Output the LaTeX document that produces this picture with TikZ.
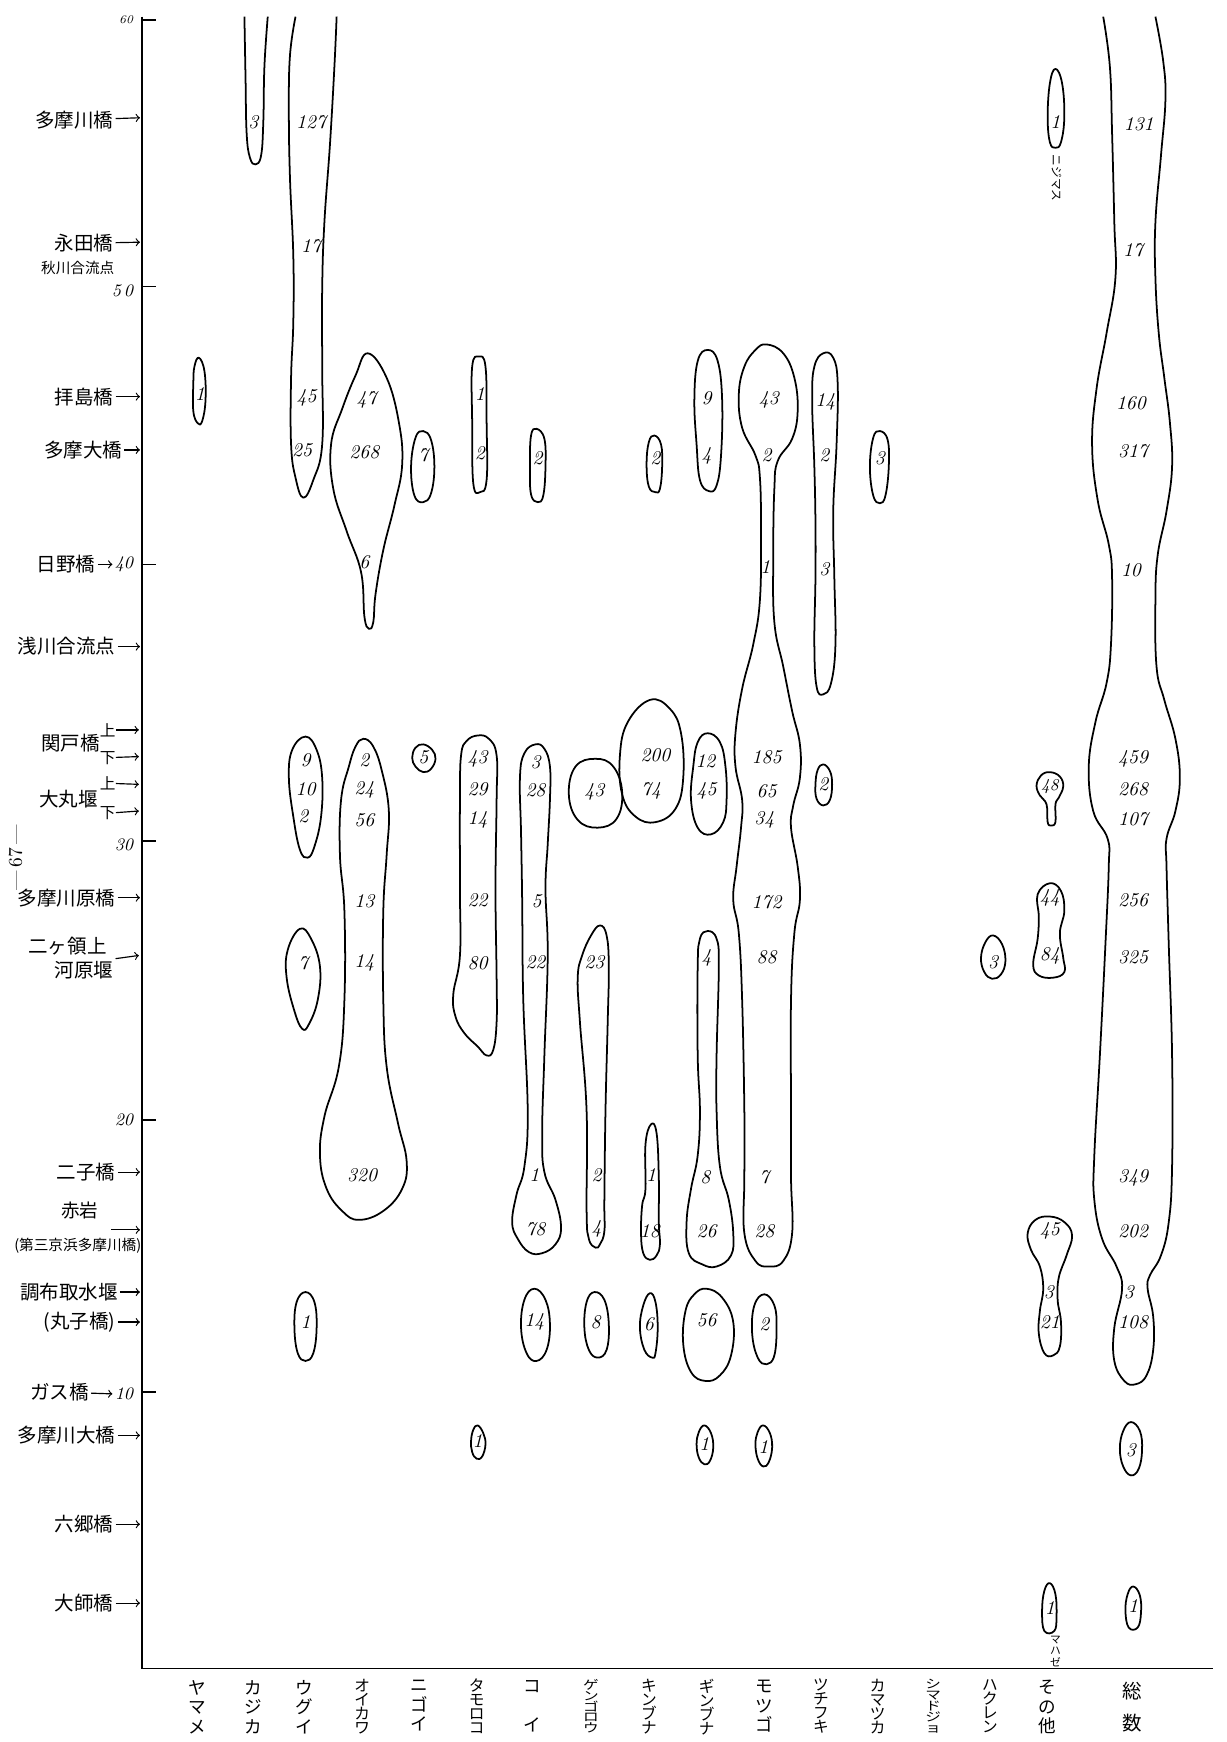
\documentclass[tikz,border=0pt]{standalone}
\usepackage{fontspec}
\newfontfamily\jp{Noto Sans CJK JP}

\begin{document}
\begin{tikzpicture}[
  x=0.02cm, y=-0.02cm,
  blob/.style={line width=.9pt, line join=round},
  numlab/.style={font=\itshape\fontsize{10}{11}\selectfont, inner sep=0pt},
  station/.style={font=\jp\fontsize{10}{12}\selectfont, anchor=east, inner sep=1pt},
  substation/.style={font=\jp\fontsize{7.5}{9}\selectfont, inner sep=0pt},
  ticklab/.style={font=\itshape\fontsize{9}{10}\selectfont, anchor=east, inner sep=1pt},
  vlab/.style={font=\jp\fontsize{9}{#1}\selectfont, align=center, anchor=north, inner sep=0pt},
  vlab/.default=10pt,
  vlabfour/.style={font=\jp\fontsize{8}{7.2}\selectfont, align=center, anchor=north, inner sep=0pt},
  vlabfive/.style={font=\jp\fontsize{8}{7.2}\selectfont, align=center, anchor=north, inner sep=0pt, yscale=.78, transform shape},
  arr/.style={->, line width=.6pt}
]
\useasboundingbox (0,0) rectangle (1104,1568);

% axes
\coordinate (o-top) at (128,15);
\coordinate (o-bot) at (128,1502);
\coordinate (o-right) at (1092,1502);
\draw[line width=.8pt] (o-top) -- (o-bot) -- (o-right);
\draw[line width=.7pt] (128,18) -- (140,18);
\draw[line width=.7pt] (128,258) -- (140,258);
\draw[line width=.7pt] (128,508) -- (140,508);
\draw[line width=.7pt] (128,757) -- (140,757);
\draw[line width=.7pt] (128,1008) -- (140,1008);
\draw[line width=.7pt] (128,1253) -- (140,1253);

\node[ticklab, font=\itshape\fontsize{6}{7}\selectfont] (t60) at (122,18) {60};
\node[ticklab] (t50) at (122,262) {5\,0};
\node[ticklab] (t40) at (122,508) {40};
\node[ticklab] (t30) at (122,760) {30};
\node[ticklab] (t20) at (122,1008) {20};
\node[ticklab] (t10) at (122,1255) {10};

\node[font=\fontsize{10}{12}\selectfont, rotate=90] (pageno) at (14,772) {---\,67\,---};

% stations
\node[station] (s-tamagawa) at (104,108) {多摩川橋};
\coordinate (a-tamagawa) at (126,106);
\draw[arr] (s-tamagawa) -- (a-tamagawa);
\node[station] (s-nagata) at (104,219) {永田橋};
\coordinate (a-nagata) at (126,218);
\draw[arr] (s-nagata) -- (a-nagata);
\node[substation] (s-akigawa) at (70,241) {秋川合流点};
\node[station] (s-haijima) at (104,357) {拝島橋};
\coordinate (a-haijima) at (126,357);
\draw[arr] (s-haijima) -- (a-haijima);
\node[station] (s-tamaohashi) at (112,405) {多摩大橋};
\coordinate (a-tamaohashi) at (126,405);
\draw[arr] (s-tamaohashi) -- (a-tamaohashi);
\node[station] (s-hino) at (88,508) {日野橋};
\draw[arr] (s-hino) -- (t40);
\node[station] (s-asakawa) at (106,582) {浅川合流点};
\coordinate (a-asakawa) at (126,582);
\draw[arr] (s-asakawa) -- (a-asakawa);
\node[station] (s-sekido) at (92,669) {関戸橋};
\node[substation, font=\jp\fontsize{8}{9}\selectfont] (s-sekido-up) at (97,657) {上};
\node[substation, font=\jp\fontsize{8}{9}\selectfont] (s-sekido-dn) at (97,682) {下};
\coordinate (a-sekido-up) at (125,657);
\coordinate (a-sekido-dn) at (125,681);
\draw[arr] (s-sekido-up) -- (a-sekido-up);
\draw[arr] (s-sekido-dn) -- (a-sekido-dn);
\node[station] (s-daimaru) at (90,719) {大丸堰};
\node[substation, font=\jp\fontsize{8}{9}\selectfont] (s-daimaru-up) at (97,705) {上};
\node[substation, font=\jp\fontsize{8}{9}\selectfont] (s-daimaru-dn) at (97,732) {下};
\coordinate (a-daimaru-up) at (125,706);
\coordinate (a-daimaru-dn) at (125,730);
\draw[arr] (s-daimaru-up) -- (a-daimaru-up);
\draw[arr] (s-daimaru-dn) -- (a-daimaru-dn);
\node[station] (s-tamagawara) at (106,808) {多摩川原橋};
\coordinate (a-tamagawara) at (126,808);
\draw[arr] (s-tamagawara) -- (a-tamagawara);
\node[station] (s-nikaryo) at (98,852) {二ヶ領上};
\node[station] (s-kawarazeki) at (104,873) {河原堰};
\coordinate (a-nikaryo) at (125,860);
\draw[arr] (s-kawarazeki.north east) -- (a-nikaryo);
\node[station] (s-futako) at (106,1055) {二子橋};
\coordinate (a-futako) at (126,1055);
\draw[arr] (s-futako) -- (a-futako);
\node[substation, font=\jp\fontsize{9.5}{11}\selectfont] (s-akaiwa) at (72,1090) {赤岩};
\node[substation] (s-daisan) at (70,1121) {(第三京浜多摩川橋)};
\coordinate (c-akaiwa) at (100,1107);
\coordinate (a-akaiwa) at (126,1107);
\draw[arr] (c-akaiwa) -- (a-akaiwa);
\node[station] (s-chofu) at (108,1163) {調布取水堰};
\coordinate (a-chofu) at (126,1163);
\draw[arr] (s-chofu) -- (a-chofu);
\node[station] (s-maruko) at (106,1190) {(丸子橋)};
\coordinate (a-maruko) at (126,1190);
\draw[arr] (s-maruko) -- (a-maruko);
\node[station] (s-gasu) at (82,1253) {ガス橋};
\draw[arr] (s-gasu) -- (t10);
\node[station] (s-tamagawaohashi) at (106,1292) {多摩川大橋};
\coordinate (a-tamagawaohashi) at (126,1292);
\draw[arr] (s-tamagawaohashi) -- (a-tamagawaohashi);
\node[station] (s-rokugo) at (104,1372) {六郷橋};
\coordinate (a-rokugo) at (126,1372);
\draw[arr] (s-rokugo) -- (a-rokugo);
\node[station] (s-daishi) at (104,1443) {大師橋};
\coordinate (a-daishi) at (126,1443);
\draw[arr] (s-daishi) -- (a-daishi);

% species labels
\node[vlab] (l-yamame) at (178,1512) {ヤ\\マ\\メ};
\node[vlab] (l-kajika) at (228,1512) {カ\\ジ\\カ};
\node[vlab] (l-ugui) at (274,1512) {ウ\\グ\\イ};
\node[vlabfour] (l-oikawa) at (326,1511) {オ\\イ\\カ\\ワ};
\node[vlab] (l-nigoi) at (377,1512) {ニ\\ゴ\\イ};
\node[vlabfour] (l-tamoroko) at (429,1511) {タ\\モ\\ロ\\コ};
\node[vlab=20pt] (l-koi) at (479,1512) {コ\\イ};
\node[vlabfive] (l-gengoro) at (532,1511) {ゲ\\ン\\ゴ\\ロ\\ウ};
\node[vlabfour] (l-kinbuna) at (584,1511) {キ\\ン\\ブ\\ナ};
\node[vlabfour] (l-ginbuna) at (636,1511) {ギ\\ン\\ブ\\ナ};
\node[vlab] (l-motsugo) at (688,1512) {モ\\ツ\\ゴ};
\node[vlabfour] (l-tsuchifuki) at (739,1511) {ツ\\チ\\フ\\キ};
\node[vlabfour] (l-kamatsuka) at (790,1511) {カ\\マ\\ツ\\カ};
\node[vlabfive] (l-shimadojo) at (840,1511) {シ\\マ\\ド\\ジ\\ョ};
\node[vlabfour] (l-hakuren) at (891,1511) {ハ\\ク\\レ\\ン};
\node[vlab] (l-sonota) at (943,1512) {そ\\の\\他};
\node[vlab=16pt, font=\jp\fontsize{10}{16}\selectfont] (l-sosu) at (1019,1514) {総\\数};

% yamame
\draw[blob] plot[smooth cycle, tension=.7] coordinates {(179,322) (184,334) (185,360) (182,379) (178,381) (174,370) (174,345) (175,330)};
\node[numlab] (ya-1) at (180,355) {1};

% kajika
\draw[blob] plot[smooth, tension=.7] coordinates {(220,15) (221,70) (222,120) (225,142) (230,148) (235,140) (237,110) (238,60) (241,15)};
\node[numlab] (ka-3) at (228,110) {3};

% ugui
\draw[blob] plot[smooth, tension=.7] coordinates {(266,15) (261,50) (260,100) (261,160) (264,230) (264,290) (262,340) (262,400) (266,430) (273,448) (282,432) (290,400) (290,330) (290,260) (292,200) (297,130) (301,60) (303,15)};
\draw[blob] plot[smooth cycle, tension=.7] coordinates {(275,663) (285,675) (290,700) (289,735) (283,762) (277,772) (270,765) (264,735) (260,700) (263,675)};
\draw[blob] plot[smooth cycle, tension=.7] coordinates {(270,836) (280,845) (288,870) (286,900) (278,922) (272,926) (265,910) (258,880) (259,855)};
\draw[blob] plot[smooth cycle, tension=.7] coordinates {(275,1163) (283,1172) (285,1195) (282,1218) (275,1225) (268,1218) (265,1195) (267,1172)};
\node[numlab] (ug-127) at (280,110) {127};
\node[numlab] (ug-17) at (280,222) {17};
\node[numlab] (ug-45) at (276,358) {45};
\node[numlab] (ug-25) at (272,405) {25};
\node[numlab] (ug-9) at (275,684) {9};
\node[numlab] (ug-10) at (275,710) {10};
\node[numlab] (ug-2) at (273,735) {2};
\node[numlab] (ug-7) at (273,867) {7};
\node[numlab] (ug-1) at (275,1190) {1};

% oikawa
\draw[blob] plot[smooth cycle, tension=.7] coordinates {(331,318) (348,340) (359,380) (362,418) (355,455) (345,495) (338,535) (336,560) (332,566) (328,555) (325,515) (312,478) (300,440) (298,400) (308,368) (320,338)};
\draw[blob] plot[smooth cycle, tension=.7] coordinates {(327,665) (336,672) (344,695) (350,730) (348,770) (345,820) (345,900) (348,960) (358,1010) (366,1045) (362,1070) (345,1090) (323,1098) (308,1090) (294,1070) (288,1040) (292,1005) (305,960) (310,900) (310,820) (306,770) (307,720) (314,690) (320,672)};
\node[numlab] (oi-47) at (330,360) {47};
\node[numlab] (oi-268) at (328,407) {268};
\node[numlab] (oi-6) at (328,506) {6};
\node[numlab] (oi-2) at (328,684) {2};
\node[numlab] (oi-24) at (328,711) {24};
\node[numlab] (oi-56) at (328,738) {56};
\node[numlab] (oi-13) at (328,811) {13};
\node[numlab] (oi-14) at (328,867) {14};
\node[numlab] (oi-320) at (326,1058) {320};

% nigoi
\draw[blob] plot[smooth cycle, tension=.7] coordinates {(381,388) (388,396) (391,420) (388,444) (381,452) (373,446) (370,420) (374,394)};
\draw[blob] plot[smooth cycle, tension=.7] coordinates {(381,670) (389,675) (392,683) (388,692) (381,695) (374,690) (371,682) (374,673)};
\node[numlab] (ni-7) at (381,410) {7};
\node[numlab] (ni-5) at (381,682) {5};

% tamoroko
\draw[blob] plot[smooth cycle, tension=.7] coordinates {(431,321) (437,330) (438,380) (438,432) (432,443) (426,435) (425,380) (425,330)};
\draw[blob] plot[smooth cycle, tension=.7] coordinates {(430,662) (440,665) (447,680) (447,720) (446,800) (447,880) (447,920) (444,945) (438,950) (430,942) (418,930) (410,915) (408,895) (414,860) (414,800) (414,720) (415,680) (420,667)};
\draw[blob] plot[smooth cycle, tension=.7] coordinates {(430,1283) (435,1290) (437,1300) (434,1311) (429,1313) (425,1307) (424,1297) (426,1287)};
\node[numlab] (ta-1) at (432,355) {1};
\node[numlab] (ta-2) at (432,408) {2};
\node[numlab] (ta-43) at (430,683) {43};
\node[numlab] (ta-29) at (430,710) {29};
\node[numlab] (ta-14) at (430,738) {14};
\node[numlab] (ta-22) at (430,810) {22};
\node[numlab] (ta-80) at (430,867) {80};
\node[numlab] (ta-1b) at (430,1297) {1};

% koi
\draw[blob] plot[smooth cycle, tension=.7] coordinates {(483,386) (490,395) (491,420) (489,446) (484,452) (478,445) (477,420) (478,392)};
\draw[blob] plot[smooth cycle, tension=.7] coordinates {(482,670) (490,674) (495,690) (495,720) (493,760) (491,800) (493,860) (490,950) (488,1020) (490,1055) (500,1080) (505,1105) (500,1120) (488,1128) (476,1127) (466,1115) (461,1100) (465,1075) (472,1050) (475,1000) (471,900) (470,810) (469,750) (468,700) (472,678)};
\draw[blob] plot[smooth cycle, tension=.7] coordinates {(481,1160) (491,1170) (495,1192) (492,1215) (483,1225) (474,1218) (469,1195) (472,1170)};
\node[numlab] (ko-2) at (484,412) {2};
\node[numlab] (ko-3) at (482,686) {3};
\node[numlab] (ko-28) at (482,711) {28};
\node[numlab] (ko-5) at (483,811) {5};
\node[numlab] (ko-22) at (482,866) {22};
\node[numlab] (ko-1) at (481,1058) {1};
\node[numlab] (ko-78) at (482,1106) {78};
\node[numlab] (ko-14) at (481,1190) {14};

% gengorobuna
\draw[blob] plot[smooth cycle, tension=.7] coordinates {(536,683) (552,690) (560,713) (555,737) (538,745) (520,738) (512,715) (518,690)};
\draw[blob] plot[smooth cycle, tension=.7] coordinates {(540,833) (546,842) (548,870) (547,920) (545,1000) (544,1080) (544,1108) (540,1120) (536,1123) (530,1115) (528,1090) (528,1000) (522,920) (520,880) (524,860) (532,842)};
\draw[blob] plot[smooth cycle, tension=.7] coordinates {(535,1163) (544,1170) (548,1192) (546,1215) (538,1222) (530,1215) (526,1195) (528,1172)};
\node[numlab] (ge-43) at (535,713) {43};
\node[numlab] (ge-23) at (535,866) {23};
\node[numlab] (ge-2) at (537,1058) {2};
\node[numlab] (ge-4) at (537,1106) {4};
\node[numlab] (ge-8) at (536,1190) {8};

% kinbuna
\draw[blob] plot[smooth cycle, tension=.7] coordinates {(589,392) (595,400) (596,420) (594,440) (590,443) (584,438) (582,418) (584,398)};
\draw[blob] plot[smooth cycle, tension=.7] coordinates {(585,630) (603,638) (613,660) (615,700) (608,728) (590,740) (572,735) (560,715) (558,680) (565,650)};
\draw[blob] plot[smooth cycle, tension=.7] coordinates {(586,1012) (591,1020) (593,1060) (593,1100) (594,1120) (591,1130) (585,1134) (579,1128) (577,1110) (578,1085) (581,1070) (581,1030)};
\draw[blob] plot[smooth cycle, tension=.7] coordinates {(585,1164) (590,1172) (592,1195) (590,1218) (587,1222) (580,1215) (576,1195) (579,1175)};
\node[numlab] (ki-2) at (590,412) {2};
\node[numlab] (ki-200) at (590,680) {200};
\node[numlab] (ki-74) at (586,712) {74};
\node[numlab] (ki-1) at (586,1058) {1};
\node[numlab] (ki-18) at (585,1108) {18};
\node[numlab] (ki-6) at (584,1192) {6};

% ginbuna
\draw[blob] plot[smooth cycle, tension=.7] coordinates {(637,315) (646,325) (650,360) (649,410) (645,437) (638,442) (630,432) (627,400) (625,360) (628,325)};
\draw[blob] plot[smooth cycle, tension=.7] coordinates {(637,660) (648,668) (653,690) (654,720) (651,740) (640,751) (628,745) (622,720) (624,690) (628,668)};
\draw[blob] plot[smooth cycle, tension=.7] coordinates {(637,838) (645,845) (647,870) (645,950) (645,1000) (648,1050) (656,1080) (660,1110) (658,1130) (645,1140) (632,1138) (620,1128) (618,1100) (622,1070) (628,1040) (630,1000) (628,950) (628,870) (630,845)};
\draw[blob] plot[smooth cycle, tension=.7] coordinates {(636,1160) (650,1168) (660,1190) (658,1220) (648,1238) (635,1243) (622,1235) (615,1210) (617,1180) (625,1165)};
\draw[blob] plot[smooth cycle, tension=.7] coordinates {(634,1283) (640,1290) (642,1303) (639,1315) (634,1318) (629,1312) (627,1300) (629,1289)};
\node[numlab] (gi-9) at (636,358) {9};
\node[numlab] (gi-4) at (636,410) {4};
\node[numlab] (gi-12) at (635,685) {12};
\node[numlab] (gi-45) at (636,712) {45};
\node[numlab] (gi-4b) at (636,862) {4};
\node[numlab] (gi-8) at (635,1060) {8};
\node[numlab] (gi-26) at (636,1108) {26};
\node[numlab] (gi-56) at (636,1188) {56};
\node[numlab] (gi-1) at (634,1300) {1};

% motsugo
\draw[blob] plot[smooth cycle, tension=.7] coordinates {(690,310) (705,318) (715,340) (718,370) (713,395) (700,415) (697,440) (696,500) (697,560) (705,600) (713,640) (720,670) (720,700) (714,725) (712,745) (718,780) (720,810) (715,840) (712,900) (712,1000) (712,1060) (713,1110) (705,1135) (692,1140) (680,1135) (670,1110) (670,1060) (670,1000) (668,900) (665,840) (660,810) (663,780) (667,745) (668,720) (662,690) (662,660) (668,620) (678,580) (684,540) (685,480) (684,430) (680,410) (668,385) (665,355) (670,330) (680,315)};
\draw[blob] plot[smooth cycle, tension=.7] coordinates {(688,1165) (697,1175) (699,1195) (697,1220) (690,1228) (682,1222) (677,1200) (679,1175)};
\draw[blob] plot[smooth cycle, tension=.7] coordinates {(687,1283) (693,1290) (695,1303) (692,1316) (687,1320) (682,1313) (680,1300) (682,1289)};
\node[numlab] (mo-43) at (692,360) {43};
\node[numlab] (mo-2) at (690,410) {2};
\node[numlab] (mo-1) at (689,510) {1};
\node[numlab] (mo-185) at (690,682) {185};
\node[numlab] (mo-65) at (690,712) {65};
\node[numlab] (mo-34) at (688,738) {34};
\node[numlab] (mo-172) at (690,812) {172};
\node[numlab] (mo-88) at (690,862) {88};
\node[numlab] (mo-7) at (688,1060) {7};
\node[numlab] (mo-28) at (688,1108) {28};
\node[numlab] (mo-2b) at (688,1192) {2};
\node[numlab] (mo-1b) at (687,1302) {1};

% tsuchifuki
\draw[blob] plot[smooth cycle, tension=.7] coordinates {(741,318) (750,322) (754,345) (753,400) (750,460) (751,520) (752,580) (748,615) (741,625) (735,618) (733,580) (734,520) (734,470) (733,420) (731,360) (733,330)};
\draw[blob] plot[smooth cycle, tension=.7] coordinates {(741,688) (747,694) (749,706) (747,720) (741,725) (735,719) (734,706) (736,693)};
\node[numlab] (ts-14) at (743,362) {14};
\node[numlab] (ts-2) at (742,410) {2};
\node[numlab] (ts-3) at (742,512) {3};
\node[numlab] (ts-2b) at (741,706) {2};

% kamatsuka
\draw[blob] plot[smooth cycle, tension=.7] coordinates {(792,388) (799,396) (800,420) (797,446) (792,453) (786,446) (783,420) (786,394)};
\node[numlab] (km-3) at (792,412) {3};

% hakuren
\draw[blob] plot[smooth cycle, tension=.7] coordinates {(894,842) (902,850) (905,865) (901,877) (893,881) (886,875) (883,862) (887,848)};
\node[numlab] (ha-3) at (894,866) {3};

% sonota
\draw[blob] plot[smooth cycle, tension=.7] coordinates {(950,62) (956,75) (958,105) (955,128) (950,133) (945,128) (943,105) (945,75)};
\node[numlab] (so-1) at (950,110) {1};
\node[font=\jp\fontsize{6}{7}\selectfont, rotate=-90, anchor=west, inner sep=0pt] (so-nijimasu) at (951,139) {ニジマス};
\draw[blob] plot[smooth cycle, tension=.7] coordinates {(945,695) (954,699) (957,708) (953,718) (950,724) (950,740) (946,743) (943,740) (942,724) (936,716) (933,707) (937,698)};
\draw[blob] plot[smooth cycle, tension=.7] coordinates {(945,795) (955,802) (958,820) (954,840) (957,862) (958,875) (948,880) (935,878) (930,868) (934,845) (935,825) (934,805)};
\draw[blob] plot[smooth cycle, tension=.7] coordinates {(945,1095) (958,1100) (965,1112) (960,1130) (953,1150) (952,1170) (955,1190) (954,1212) (948,1220) (940,1218) (935,1200) (936,1180) (939,1160) (936,1140) (928,1125) (925,1110) (932,1098)};
\draw[blob] plot[smooth cycle, tension=.7] coordinates {(945,1425) (950,1435) (951,1455) (949,1468) (940,1468) (938,1450) (940,1432)};
\node[numlab, font=\itshape\fontsize{8.5}{9}\selectfont] (so-48) at (945,708) {48};
\node[numlab] (so-44) at (945,808) {44};
\node[numlab] (so-84) at (945,860) {84};
\node[numlab] (so-45) at (945,1108) {45};
\node[numlab] (so-3) at (944,1163) {3};
\node[numlab] (so-21) at (945,1190) {21};
\node[numlab] (so-1b) at (945,1447) {1};
\node[font=\jp\fontsize{5.5}{6}\selectfont, align=center, anchor=north, inner sep=0pt] (so-mahaze) at (950,1472) {マ\\ハ\\ゼ};

% sosu
\draw[blob] plot[smooth, tension=.7] coordinates {(993,15) (999,60) (1001,120) (1003,200) (1004,250) (996,300) (987,350) (983,400) (988,450) (998,490) (1001,520) (1000,580) (996,615) (986,650) (980,690) (984,730) (997,755) (998,780) (995,850) (990,950) (985,1040) (985,1080) (992,1115) (1005,1140) (1010,1160) (1003,1195) (1003,1225) (1012,1243) (1022,1246) (1032,1238) (1038,1215) (1038,1185) (1033,1160) (1035,1148) (1045,1130) (1052,1100) (1055,1050) (1055,950) (1052,850) (1050,780) (1050,755) (1058,730) (1062,700) (1058,665) (1048,630) (1041,600) (1040,540) (1042,500) (1050,460) (1055,420) (1053,380) (1048,340) (1043,300) (1040,250) (1040,200) (1045,140) (1049,90) (1047,55) (1040,15)};
\draw[blob] plot[smooth cycle, tension=.7] coordinates {(1018,1280) (1026,1288) (1028,1305) (1025,1322) (1018,1328) (1011,1320) (1008,1304) (1011,1288)};
\draw[blob] plot[smooth cycle, tension=.7] coordinates {(1020,1428) (1026,1436) (1027,1452) (1024,1465) (1016,1465) (1013,1450) (1015,1435)};
\node[numlab] (su-131) at (1025,112) {131};
\node[numlab] (su-17) at (1020,225) {17};
\node[numlab] (su-160) at (1018,363) {160};
\node[numlab] (su-317) at (1020,406) {317};
\node[numlab] (su-10) at (1018,513) {10};
\node[numlab] (su-459) at (1020,683) {459};
\node[numlab] (su-268) at (1020,710) {268};
\node[numlab] (su-107) at (1020,737) {107};
\node[numlab] (su-256) at (1020,810) {256};
\node[numlab] (su-325) at (1020,862) {325};
\node[numlab] (su-349) at (1020,1060) {349};
\node[numlab] (su-202) at (1020,1108) {202};
\node[numlab] (su-3) at (1016,1163) {3};
\node[numlab] (su-108) at (1020,1190) {108};
\node[numlab] (su-3b) at (1018,1305) {3};
\node[numlab] (su-1) at (1020,1446) {1};
\end{tikzpicture}
\end{document}
